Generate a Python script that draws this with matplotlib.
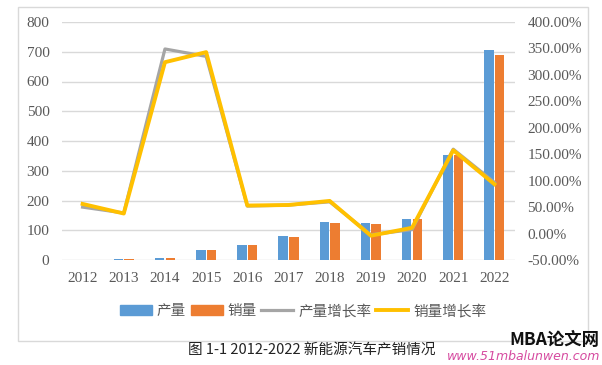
import matplotlib.pyplot as plt
import numpy as np
from matplotlib.patches import Rectangle, Patch
from matplotlib.lines import Line2D

# numbers in a serif face, Chinese text falls back to Noto CJK
plt.rcParams['font.family'] = ['Liberation Serif', 'Noto Sans CJK SC']
cjk = ['Noto Sans CJK SC', 'DejaVu Sans']

years = ['2012', '2013', '2014', '2015', '2016', '2017', '2018', '2019', '2020', '2021', '2022']
production = [1.26, 1.75, 7.85, 34.05, 51.7, 79.4, 127.0, 124.2, 136.6, 354.5, 705.8]
sales = [1.28, 1.76, 7.48, 33.11, 50.7, 77.7, 125.6, 120.6, 136.7, 352.1, 688.7]
prod_growth = [50.0, 38.9, 349.0, 335.0, 52.0, 53.8, 60.0, -2.3, 7.5, 159.5, 96.9]
sales_growth = [56.0, 37.9, 324.0, 343.0, 53.0, 54.0, 61.7, -4.0, 10.9, 157.5, 93.4]

gray_txt = '#595959'

fig = plt.figure(figsize=(6.02, 3.65), dpi=100)
fig.patches.append(Rectangle((18 / 602, 1 - 341 / 365), 570 / 602, 334 / 365,
                             transform=fig.transFigure, fill=False,
                             edgecolor='#D9D9D9', linewidth=1))

ax = fig.add_axes([62 / 602, 1 - 260 / 365, 453 / 602, 238 / 365])
x = np.arange(len(years))
w = 0.23
ax.bar(x - 0.13, production, w, color='#5B9BD5', zorder=2)
ax.bar(x + 0.13, sales, w, color='#ED7D31', zorder=2)
ax.set_ylim(0, 800)
ax.set_xlim(-0.5, 10.5)
ax.set_yticks(range(0, 801, 100))
ax.set_xticks(x)
ax.set_xticklabels(years)
ax.grid(axis='y', color='#D9D9D9', linewidth=1, zorder=0)
for s in ax.spines.values():
    s.set_visible(False)
ax.tick_params(length=0, colors=gray_txt, labelsize=11, pad=9)

ax2 = ax.twinx()
ax2.plot(x, prod_growth, color='#A5A5A5', linewidth=2.3, zorder=3)
ax2.plot(x, sales_growth, color='#FFC000', linewidth=2.8, zorder=4)
ax2.set_ylim(-50, 400)
ax2.set_yticks(range(-50, 401, 50))
ax2.set_yticklabels(['%.2f%%' % v for v in range(-50, 401, 50)])
for s in ax2.spines.values():
    s.set_visible(False)
ax2.tick_params(length=0, colors=gray_txt, labelsize=11, pad=9)

handles = [Patch(color='#5B9BD5'), Patch(color='#ED7D31'),
           Line2D([], [], color='#A5A5A5', linewidth=2.3),
           Line2D([], [], color='#FFC000', linewidth=2.8)]
labels = ['产量', '销量', '产量增长率', '销量增长率']
fig.legend(handles, labels, loc='center', bbox_to_anchor=(303 / 602, 1 - 311 / 365),
           ncol=4, frameon=False, prop={'family': cjk, 'size': 10.5}, labelcolor=gray_txt,
           handlelength=2.2, handletextpad=0.35, columnspacing=0.3)

fig.text(312 / 602, 1 - 350 / 365, '图 1-1 2012-2022 新能源汽车产销情况',
         ha='center', va='center', fontsize=10.5, color='#222222', family=cjk)
fig.text(599 / 602, 1 - 340 / 365, 'MBA论文网', ha='right', va='center',
         fontsize=12.5, fontweight='bold', style='italic', color='#111111', family=cjk)
fig.text(600 / 602, 1 - 356 / 365, 'www.51mbalunwen.com', ha='right', va='center',
         fontsize=9, style='italic', color='#D64BA0', family=['DejaVu Sans'])

fig.savefig('out.png', dpi=100)
